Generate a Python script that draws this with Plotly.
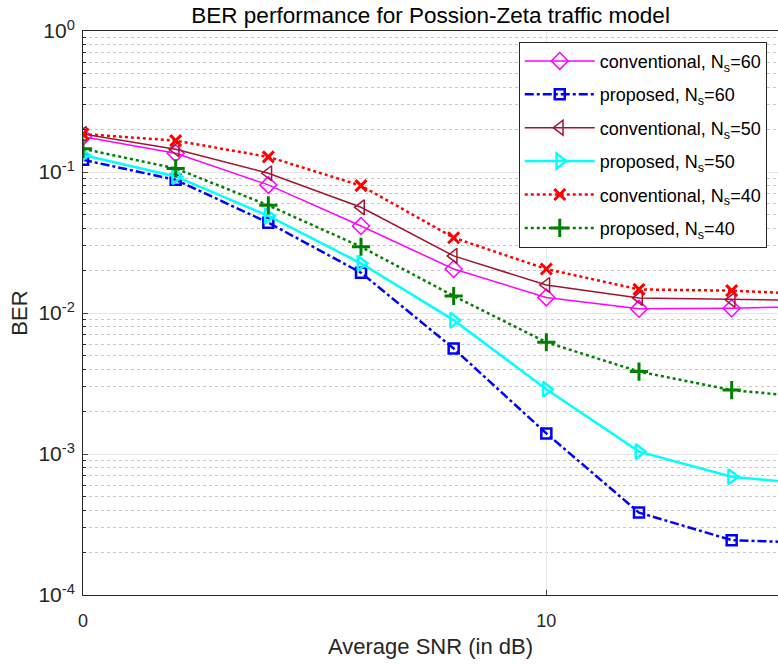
import plotly.graph_objects as go

# Average SNR (dB); last point lies beyond the visible axis range
snr = [0, 2, 4, 6, 8, 10, 12, 14, 16]

ber_conv_60 = [0.178, 0.136, 0.081, 0.0414, 0.0205, 0.0129, 0.0107, 0.0108, 0.0112]
ber_prop_60 = [0.122, 0.088, 0.0437, 0.0193, 0.0056, 0.00140, 0.000384, 0.000245, 0.000233]
ber_conv_50 = [0.186, 0.145, 0.098, 0.0562, 0.0254, 0.0158, 0.0128, 0.0124, 0.0122]
ber_prop_50 = [0.132, 0.093, 0.0488, 0.0225, 0.0089, 0.00288, 0.00104, 0.00069, 0.00060]
ber_conv_40 = [0.186, 0.167, 0.128, 0.080, 0.0342, 0.0205, 0.0147, 0.0144, 0.0135]
ber_prop_40 = [0.146, 0.106, 0.058, 0.0295, 0.0132, 0.0062, 0.00384, 0.00284, 0.00247]

y_major = [1e-4, 1e-3, 1e-2, 1e-1, 1]
y_major_text = ["10<sup>-4</sup>", "10<sup>-3</sup>", "10<sup>-2</sup>", "10<sup>-1</sup>", "10<sup>0</sup>"]
y_minor = [m * 10 ** e for e in range(-4, 0) for m in range(2, 10)]

series = [
    ("conventional, N<sub>s</sub>=60", ber_conv_60, "#FF00FF", "solid", 1.5, "diamond-open", 13, 1.5),
    ("proposed, N<sub>s</sub>=60", ber_prop_60, "#0000FF", "dashdot", 2.5, "square-open", 10, 2.5),
    ("conventional, N<sub>s</sub>=50", ber_conv_50, "#A2142F", "solid", 1.5, "triangle-left-open", 13, 1.5),
    ("proposed, N<sub>s</sub>=50", ber_prop_50, "#00FFFF", "solid", 2.5, "triangle-right-open", 13, 2.5),
    ("conventional, N<sub>s</sub>=40", ber_conv_40, "#FF0000", "dot", 2.5, "x-thin-open", 11, 3),
    ("proposed, N<sub>s</sub>=40", ber_prop_40, "#008000", "dot", 2.5, "cross-thin-open", 13, 3),
]

fig = go.Figure()
for i, (name, y, color, dash, lw, sym, msize, mlw) in enumerate(series):
    fig.add_trace(go.Scatter(
        x=snr, y=y, name=name, mode="lines+markers", legendgroup=f"g{i}",
        line=dict(color=color, dash=dash, width=lw),
        marker=dict(symbol=sym, size=msize, color=color, line=dict(color=color, width=mlw)),
    ))

font_family = "Liberation Sans, Arial, Helvetica, sans-serif"

fig.update_layout(
    width=778, height=665,
    margin=dict(l=83, r=0, t=31, b=70),
    paper_bgcolor="white", plot_bgcolor="white",
    font=dict(family=font_family, size=18, color="#262626"),
    title=dict(text="BER performance for Possion-Zeta traffic model",
               x=0.5535, xanchor="center", y=0.977, yanchor="middle",
               font=dict(size=22.5, color="#000000")),
    legend=dict(x=0.627, y=0.981, xanchor="left", yanchor="top",
                bgcolor="white", bordercolor="#262626", borderwidth=1,
                font=dict(size=18, color="#000000"), tracegroupgap=7,
                itemwidth=70),
    showlegend=True,
)

fig.update_xaxes(
    range=[0, 15], tickvals=[0, 10], ticks="inside", ticklen=5,
    showline=True, linecolor="#262626", linewidth=1, mirror=True,
    showgrid=True, gridcolor="#e6e6e6", gridwidth=1, zeroline=False,
    ticklabelstandoff=9,
    title=dict(text="Average SNR (in dB)", font=dict(size=22), standoff=9),
    tickfont=dict(size=18),
)

fig.update_yaxes(
    type="log", range=[-4, 0], tickvals=y_major, ticktext=y_major_text,
    ticks="inside", ticklen=5,
    showline=True, linecolor="#262626", linewidth=1,
    showgrid=True, gridcolor="#e6e6e6", gridwidth=1, zeroline=False,
    ticklabelstandoff=3,
    minor=dict(tickvals=y_minor, ticks="inside", ticklen=3, tickcolor="#262626",
               showgrid=True, gridcolor="#c8c8c8", griddash="dot", gridwidth=1),
    title=dict(text="BER", font=dict(size=22), standoff=4),
    tickfont=dict(size=21),
)

fig.write_html("out.html")
